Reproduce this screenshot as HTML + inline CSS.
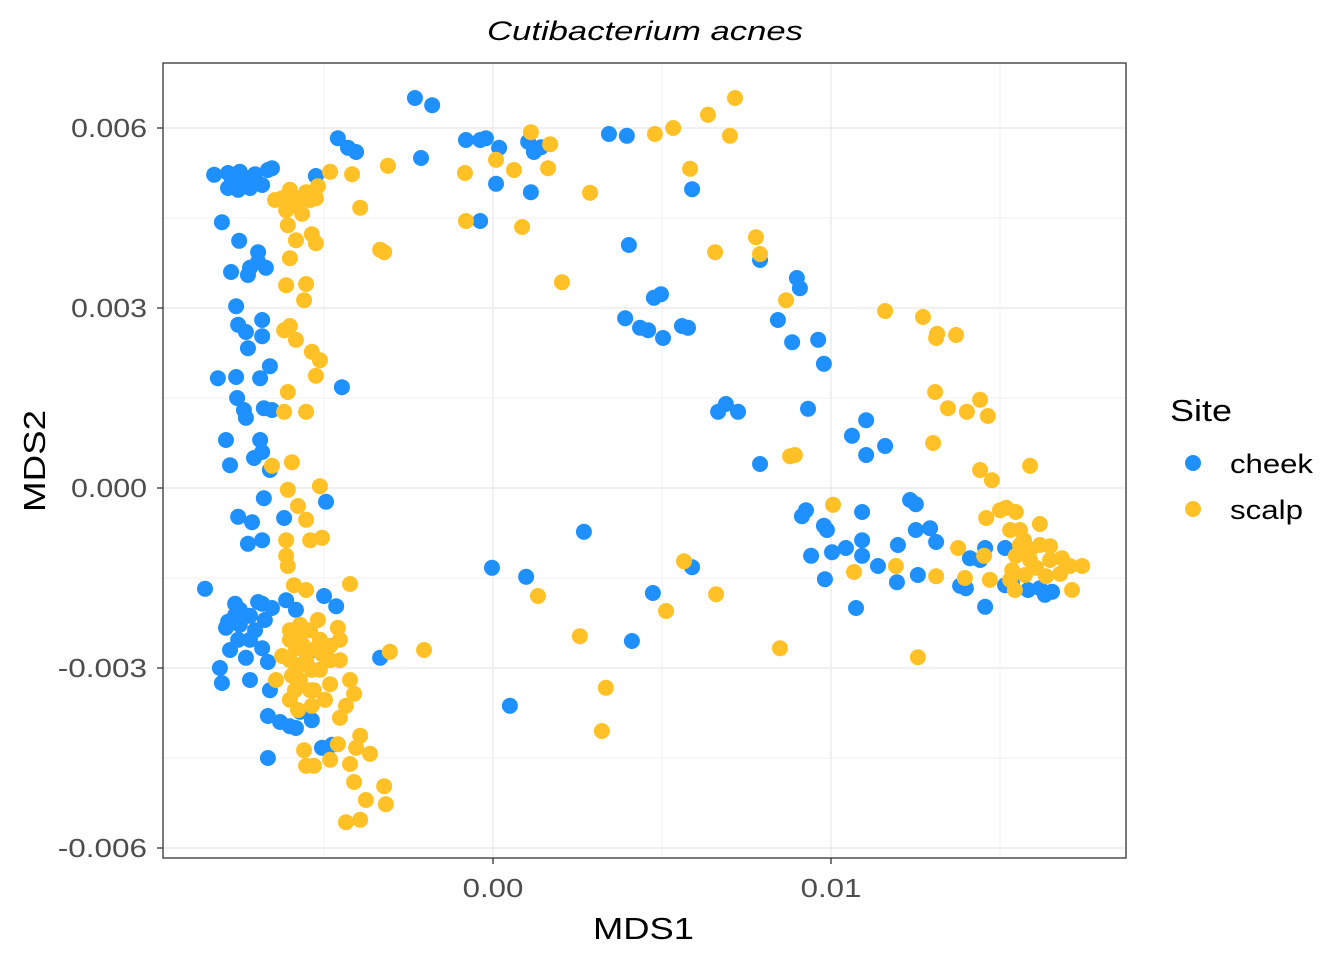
<!DOCTYPE html>
<html><head><meta charset="utf-8"><style>
html,body{margin:0;padding:0;background:#fff;}
svg{display:block;font-family:"Liberation Sans",Arial,sans-serif;}
</style></head><body>
<svg id="chart" width="1344" height="960" viewBox="0 0 1344 960" xmlns="http://www.w3.org/2000/svg">
<rect x="0" y="0" width="1344" height="960" fill="#fff"/>
<text x="487" y="40" font-size="27" font-style="italic" textLength="316" lengthAdjust="spacingAndGlyphs" fill="#000">Cutibacterium acnes</text>
<g id="grid"></g>
<g id="points"></g>
<rect x="163" y="63" width="963" height="795" fill="none" stroke="#333" stroke-width="1.3"/>
<g id="axes"></g>
<text x="593" y="939" font-size="31" textLength="101" lengthAdjust="spacingAndGlyphs" fill="#000">MDS1</text>
<text transform="translate(45,512) rotate(-90)" font-size="31" textLength="102" lengthAdjust="spacingAndGlyphs" fill="#000">MDS2</text>
<g>
<text x="1170" y="421" font-size="31" textLength="62" lengthAdjust="spacingAndGlyphs" fill="#000">Site</text>
<circle cx="1193" cy="463" r="8" fill="#1E90FF"/>
<text x="1230" y="473" font-size="27" textLength="83" lengthAdjust="spacingAndGlyphs" fill="#000">cheek</text>
<circle cx="1193" cy="509" r="8" fill="#FFC125"/>
<text x="1230" y="519" font-size="27" textLength="73" lengthAdjust="spacingAndGlyphs" fill="#000">scalp</text>
</g>
</svg>
<script>
// values in units of 1e-3
const cheekX=[-8.25,-7.84,-7.49,-7.72,-7.34,-7.04,-6.66,-6.54,-7.84,-7.54,-7.19,-6.83,-7.43,-5.24,-8.02,-7.51,-6.95,-7.75,-7.19,-6.72,-7.25,-6.95,-7.60,-7.54,-6.83,-7.31,-7.25,-6.83,-8.14,-7.60,-6.89,-6.60,-7.57,-7.37,-6.78,-7.31,-6.54,-7.90,-7.78,-6.89,-6.83,-7.07,-6.60,-6.78,-7.54,-7.13,-7.25,-6.83,-6.18,-4.94,-4.47,-8.52,-7.63,-7.49,-7.84,-7.19,-6.95,-7.90,-7.54,-6.83,-6.54,-7.78,-7.31,-6.83,-6.66,-8.08,-8.02,-7.19,-6.60,-6.66,-6.30,-6.01,-5.83,-6.66,-5.06,-4.76,-5.00,-4.64,-3.34,-5.24,-5.83,-6.12,-5.71,-5.36,-4.59,-4.29,-4.05,-2.31,-1.80,-2.13,-0.80,-0.38,-0.21,0.18,0.09,-0.38,1.04,1.21,1.42,1.12,3.43,3.96,4.02,5.89,4.76,4.97,3.91,4.35,4.59,5.03,5.59,5.77,7.90,8.43,8.85,8.99,9.08,9.62,9.79,6.66,6.89,7.25,9.32,7.90,11.04,10.62,11.60,11.04,9.14,9.26,9.88,9.79,9.41,9.82,10.03,10.44,10.92,10.92,10.74,10.92,11.39,11.95,11.98,12.51,12.57,12.34,12.51,12.93,13.11,13.82,13.99,14.56,14.56,15.15,15.36,2.69,-0.03,0.98,4.73,5.89,4.11,0.50,15.83,16.18,16.54,14.11,-7.49,-7.04,-6.75,-7.19,-7.63,14.41,15.15,16.33];
const cheekY=[5.22,5.25,5.27,5.13,5.17,5.23,5.30,5.33,5.00,4.97,5.00,5.05,5.17,5.20,4.43,4.12,3.93,3.60,3.67,3.67,3.55,3.77,3.03,2.72,2.80,2.60,2.33,2.53,1.83,1.85,1.83,2.03,1.50,1.30,1.33,1.17,1.30,0.80,0.38,0.80,0.60,0.50,0.30,-0.17,-0.48,-0.57,-0.93,-0.87,-0.50,-0.23,1.68,-1.68,-1.93,-2.03,-2.23,-2.13,-1.90,-2.33,-2.53,-1.93,-2.00,-2.70,-2.83,-2.67,-2.90,-3.00,-3.25,-3.20,-3.37,-3.80,-3.90,-3.97,-4.00,-4.50,-4.33,-4.28,-1.80,-1.97,-2.83,-2.70,-2.03,-1.87,-3.73,-3.87,5.83,5.67,5.60,6.50,6.38,5.50,5.80,5.80,5.83,5.67,5.07,4.45,5.77,5.60,5.68,4.93,5.90,5.87,4.05,4.98,3.17,3.23,2.83,2.67,2.63,2.50,2.70,2.67,3.80,2.80,2.43,3.50,3.33,2.47,2.07,1.27,1.40,1.27,1.32,0.40,1.13,0.87,0.70,0.55,-0.47,-0.37,-0.70,-0.63,-1.13,-1.52,-1.07,-1.00,-0.40,-0.87,-2.00,-1.13,-1.30,-1.57,-0.95,-0.70,-1.45,-0.20,-0.27,-0.67,-0.90,-1.63,-1.67,-1.00,-1.98,-1.00,-1.60,-0.73,-1.33,-1.48,-1.75,-1.32,-2.55,-3.63,-1.70,-1.67,-1.73,-1.17,-2.28,-2.37,-2.20,-2.53,-2.12,-1.20,-1.62,-1.78];
const scalpX=[-6.45,-6.24,-6.01,-5.83,-5.53,-5.18,-6.12,-5.77,-5.65,-5.24,-5.41,-6.07,-5.83,-6.01,-5.36,-5.24,-5.53,-6.12,-5.59,-6.01,-5.83,-6.18,-5.36,-5.12,-5.24,-6.07,-5.53,-6.18,-6.54,-5.95,-5.12,-6.07,-5.77,-5.53,-6.12,-5.41,-5.06,-6.12,-6.07,-5.89,-5.53,-4.23,-4.82,-4.17,-3.93,-3.11,-3.34,-3.22,-0.83,-0.80,0.09,0.62,0.86,1.12,1.69,1.63,2.87,2.04,4.79,5.33,5.83,6.36,7.16,7.01,6.57,7.78,7.90,8.67,11.60,12.72,13.14,13.11,13.70,13.08,13.46,14.02,14.41,14.64,13.02,8.79,8.93,14.41,14.76,15.89,10.06,14.59,13.76,14.53,15.00,15.18,15.47,15.59,15.71,16.18,15.89,16.48,16.83,17.07,17.43,16.78,17.13,16.36,16.07,15.36,15.47,15.30,14.70,13.96,13.11,11.92,10.68,12.57,5.65,6.60,5.12,1.33,2.57,3.34,3.22,8.49,-2.04,-3.05,-4.59,-4.53,-5.71,-6.01,-5.83,-5.53,-5.36,-5.06,-6.24,-5.95,-5.30,-4.82,-4.23,-4.11,-4.35,-4.53,-3.93,-4.05,-4.59,-4.82,-4.23,-3.64,-3.22,-3.76,-3.17,-4.11,-4.35,-3.93,-5.30,-5.53,-6.42,-6.01,-5.77,-5.36,-5.59,-6.01,-5.41,-5.18,-4.82,-5.65,-6.01,-5.71,-5.41,-5.12,-4.82,-5.71,-5.12,-5.41,-5.86,-4.97,-4.53,-5.71,15.30,15.59,15.89,16.18,15.74,15.44,16.48];
const scalpY=[4.80,4.83,4.97,4.83,4.93,5.03,4.63,4.70,4.57,4.83,4.80,4.38,4.13,3.83,4.23,4.08,3.40,3.38,3.13,2.70,2.47,2.63,2.27,2.13,1.87,1.60,1.27,1.27,0.37,0.43,0.03,-0.03,-0.30,-0.53,-0.87,-0.87,-0.83,-1.13,-1.30,-1.62,-1.70,-1.60,5.27,5.23,4.67,5.37,3.97,3.93,5.25,4.45,5.47,5.30,4.35,5.93,5.73,5.33,4.92,3.43,5.90,6.00,5.32,6.22,6.50,5.87,3.93,4.18,3.90,3.13,2.95,2.85,2.57,2.50,2.55,1.60,1.33,1.27,1.47,1.20,0.75,0.53,0.55,0.30,0.13,0.37,-0.28,-0.50,-1.00,-1.13,-0.37,-0.33,-0.40,-0.70,-0.87,-0.60,-1.03,-0.97,-1.17,-1.30,-1.30,-1.43,-1.70,-1.47,-1.33,-1.37,-1.13,-1.53,-1.53,-1.50,-1.47,-1.30,-1.40,-2.82,-1.22,-1.77,-2.05,-1.80,-2.47,-3.33,-4.05,-2.67,-2.70,-2.73,-2.33,-2.53,-2.53,-2.37,-2.67,-2.87,-3.03,-2.77,-2.80,-3.13,-3.37,-3.27,-3.20,-3.43,-3.63,-3.83,-4.13,-4.33,-4.27,-4.53,-4.60,-4.43,-4.97,-5.20,-5.27,-4.90,-5.57,-5.53,-4.63,-4.63,-3.20,-3.53,-3.70,-3.63,-4.37,-2.87,-2.37,-2.20,-2.63,-2.60,-2.53,-2.28,-2.70,-2.53,-2.87,-2.95,-3.03,-3.37,-3.37,-3.53,-2.87,-3.20,-0.70,-0.95,-1.20,-0.95,-1.45,-1.70,-1.20];
const xTicks=[0,0.01];
const xTickLabels=["0.00","0.01"];
const yTicks=[0.006,0.003,0,-0.003,-0.006];
const yTickLabels=["0.006","0.003","0.000","-0.003","-0.006"];

const NS="http://www.w3.org/2000/svg";
function sx(v){return 493+v*33800;}
function sy(v){return 488-v*60000;}
function mk(tag,attrs,parent){const e=document.createElementNS(NS,tag);for(const k in attrs)e.setAttribute(k,attrs[k]);parent.appendChild(e);return e;}
function labW(s){return s.length*15.2+(s[0]==='-'?-2:0);}
const grid=document.getElementById('grid');
const pts=document.getElementById('points');
const axes=document.getElementById('axes');
mk('rect',{x:163,y:63,width:963,height:795,fill:'#fff'},grid);
[-0.005,0.005,0.015].forEach(v=>{const l=mk('line',{x1:sx(v),x2:sx(v),y1:63,y2:858,stroke:'#EBEBEB','stroke-width':0.7},grid);

});
[0.0045,0.0015,-0.0015,-0.0045].forEach(v=>{const l=mk('line',{x1:163,x2:1126,y1:sy(v),y2:sy(v),stroke:'#EBEBEB','stroke-width':0.7},grid);

});
xTicks.forEach((v,i)=>{const l=mk('line',{x1:sx(v),x2:sx(v),y1:63,y2:858,stroke:'#EBEBEB','stroke-width':1.4},grid);


const t=mk('line',{x1:sx(v),x2:sx(v),y1:858,y2:864,stroke:'#333','stroke-width':1.3},axes);


const w=labW(xTickLabels[i]);
const tx=mk('text',{x:sx(v)-w/2,y:897,'font-size':26,textLength:w,lengthAdjust:'spacingAndGlyphs',fill:'#4D4D4D'},axes);tx.textContent=xTickLabels[i];

});
yTicks.forEach((v,i)=>{const l=mk('line',{x1:163,x2:1126,y1:sy(v),y2:sy(v),stroke:'#EBEBEB','stroke-width':1.4},grid);


const t=mk('line',{x1:157,x2:163,y1:sy(v),y2:sy(v),stroke:'#333','stroke-width':1.3},axes);


const w=labW(yTickLabels[i]);
const tx=mk('text',{x:147-w,y:sy(v)+9,'font-size':26,textLength:w,lengthAdjust:'spacingAndGlyphs',fill:'#4D4D4D'},axes);tx.textContent=yTickLabels[i];

});
cheekX.forEach((v,i)=>{const c=mk('circle',{cx:sx(v/1000),cy:sy(cheekY[i]/1000),r:8,fill:'#1E90FF'},pts);

});
scalpX.forEach((v,i)=>{const c=mk('circle',{cx:sx(v/1000),cy:sy(scalpY[i]/1000),r:8,fill:'#FFC125'},pts);

});
</script>
</body></html>
